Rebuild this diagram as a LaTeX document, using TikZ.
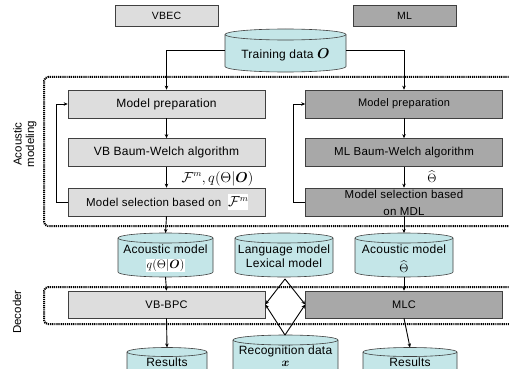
\documentclass[tikz,border=0pt]{standalone}
\usepackage{amsmath,bm}
\usepackage{fontspec}
\setmainfont{Liberation Sans}
\usetikzlibrary{arrows.meta}
\definecolor{lgray}{HTML}{DDDDDD}
\definecolor{dgray}{HTML}{A8A8A8}
\definecolor{cylc}{HTML}{C4E6E8}
\definecolor{edge}{HTML}{404040}
\newcommand\mycyl[6]{%
  \pgfmathsetmacro\cx{(#2+#3)/2}%
  \pgfmathsetmacro\rx{(#3-#2)/2}%
  \pgfmathsetmacro\cy{(#4+#5)/2}%
  \pgfmathsetmacro\hh{#5-#4}%
  \filldraw[cylstyle] (#2,#4) -- (#2,#5) arc[start angle=180,end angle=360,x radius=\rx pt,y radius=#6pt] -- (#3,#4) arc[start angle=0,end angle=180,x radius=\rx pt,y radius=#6pt] -- cycle;
  \draw[cylstyle,fill=none] (#2,#4) arc[start angle=180,end angle=360,x radius=\rx pt,y radius=#6pt];
  \node[inner sep=0pt,minimum width=2*\rx pt,minimum height=\hh pt] (#1) at (\cx,\cy) {};
  \coordinate (#1-top) at (\cx,#4-#6);
  \coordinate (#1-bot) at (\cx,#5+#6);
}
\newcommand\fsz[1]{\fontsize{#1}{#1}\selectfont\addfontfeatures{LetterSpace=2}}
\begin{document}
\begin{tikzpicture}[x=1pt,y=-1pt,
  cylstyle/.style={fill=cylc,draw=edge,line width=0.6pt},
  lbox/.style={draw=edge,line width=0.6pt,fill=lgray,minimum width=197pt,minimum height=28pt,inner sep=0pt,font=\fsz{12}},
  dbox/.style={lbox,fill=dgray,font=\fsz{11}},
  hdr/.style={draw=edge,line width=0.6pt,minimum width=103pt,minimum height=21pt,inner sep=0pt,font=\fsz{10.5}},
  arr/.style={line width=0.9pt,-{Stealth[length=4pt,width=3.5pt]}},
  dotbox/.style={line width=2pt,dash pattern=on 1.2pt off 0.9pt,rounded corners=4pt},
  txt/.style={inner sep=0pt,font=\fsz{12}},
  mth/.style={inner sep=0.3pt,font=\fontsize{13}{14}\selectfont},
  wmath/.style={mth,fill=white}]
\useasboundingbox (0,0) rectangle (509,369);
\clip (0,0) rectangle (509,369);
% headers
\node[hdr,fill=lgray] (vbec) at (166.5,15.5) {VBEC};
\node[hdr,fill=dgray] (ml) at (404.5,15.5) {ML};
% dotted regions
\draw[dotbox] (515,77) -- (44,77) -- (44,226) -- (515,226);
\draw[dotbox] (515,287) -- (44,287) -- (44,324) -- (515,324);
% training data
\mycyl{train}{225}{346}{34.5}{66.5}{5.5}
\node[txt,font=\fsz{12}] (traintxt) at (285.5,55) {Training data {\fontsize{15}{15}\selectfont$\boldsymbol{O}$}};
% boxes
\node[lbox] (mpL) at (166.5,104) {Model preparation};
\node[dbox] (mpR) at (404,104) {Model preparation};
\node[lbox] (bwL) at (166.5,152.5) {VB Baum-Welch algorithm};
\node[dbox,font=\fsz{11.5}] (bwR) at (404,152.5) {ML Baum-Welch algorithm};
\node[lbox] (msL) at (166.5,202) {};
\node[txt,font=\fsz{11.5},anchor=west] (msLtxt) at (86,202) {Model selection based on\ \ \colorbox{white}{\hspace{-3pt}\fontsize{13.5}{14}\selectfont$\mathcal{F}^m$\hspace{-3pt}}};
\node[dbox] (msR) at (404,202) {};
\node[txt,font=\fsz{11.5},align=center] (msRtxt) at (404,203) {Model selection based\\[5pt]on MDL};
% labels between
\node[wmath,font=\fontsize{13.5}{14}\selectfont,anchor=west] (fq) at (181,178.5) {$\mathcal{F}^m, q(\Theta|\boldsymbol{O})$};
\node[mth] (thR) at (432,177) {$\widehat{\Theta}$};
% side labels
\node[rotate=90,align=center,font=\fontsize{11.5}{12.5}\selectfont] (acl) at (25,144) {Acoustic\\modeling};
\node[rotate=90,font=\fontsize{11.5}{12}\selectfont] (dec) at (17,312) {Decoder};
% cylinders
\mycyl{amL}{118}{213}{238}{272}{5}
\node[txt] (amLt1) at (165.5,249) {Acoustic model};
\node[wmath] (amLt2) at (165.5,265.5) {$q(\Theta|\boldsymbol{O})$};
\mycyl{lm}{235}{333}{238}{272}{5}
\node[txt] (lmt1) at (284,250) {Language model};
\node[txt] (lmt2) at (284,263) {Lexical model};
\mycyl{amR}{355}{453}{238}{272}{5}
\node[txt] (amRt1) at (404,249) {Acoustic model};
\node[mth] (amRt2) at (404,267) {$\widehat{\Theta}$};
% decoder boxes
\node[lbox,minimum height=27pt,font=\fsz{11}] (vbbpc) at (166.5,304.5) {VB-BPC};
\node[dbox,minimum height=27pt] (mlc) at (404,304.5) {MLC};
% bottom cylinders
\mycyl{rec}{233}{338}{340}{390}{5}
\node[txt] (rect1) at (285.5,351.5) {Recognition data};
\node[inner sep=0pt,font=\fontsize{12}{12}\selectfont] (rect2) at (285.5,364) {$\boldsymbol{x}$};
\mycyl{resL}{127}{207}{352}{390}{4.5}
\node[txt] (resLt) at (167,362) {Results};
\mycyl{resR}{363}{457}{352}{390}{4.5}
\node[txt] (resRt) at (410,362) {Results};
% connectors
\draw[arr] (train.west) -| (mpL.north);
\draw[arr] (train.east) -| (mpR.north);
\draw[arr] (mpL) -- (bwL);
\draw[arr] (bwL) -- (msL);
\draw[arr] (mpR) -- (bwR);
\draw[arr] (bwR) -- (msR);
\draw[arr] (msL.west) -- ++(-11,0) |- (mpL.west);
\draw[arr] (msR.west) -- ++(-12,0) |- (mpR.west);
\draw[arr] (msL.south) -- (amL-top);
\draw[arr] (msR.south) -- (amR-top);
\draw[arr] (amL-bot) -- (vbbpc.north);
\draw[arr] (amR-bot) -- (mlc.north);
\draw[arr] (vbbpc.south) -- (resL-top);
\draw[arr] (mlc.south) -- (resR-top);
\coordinate (lmb) at (285,279);
\coordinate (rct) at (285,335);
\draw[arr] (lmb) -- (vbbpc.east);
\draw[arr] (lmb) -- (mlc.west);
\draw[arr] (rct) -- (vbbpc.east);
\draw[arr] (rct) -- (mlc.west);
\end{tikzpicture}
\end{document}
